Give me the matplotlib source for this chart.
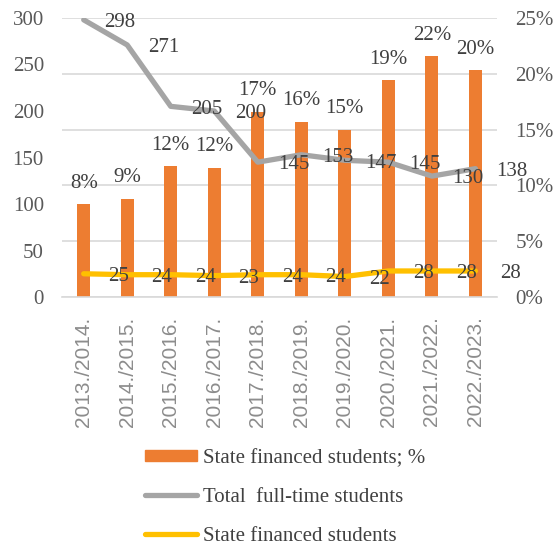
import matplotlib
matplotlib.use('Agg')
import matplotlib.pyplot as plt
import numpy as np
from matplotlib.patches import Patch
from matplotlib.lines import Line2D

years = ['2013./2014.', '2014./2015.', '2015./2016.', '2016./2017.', '2017./2018.',
         '2018./2019.', '2019./2020.', '2020./2021.', '2021./2022.', '2022./2023.']
total_students = [298, 271, 205, 200, 145, 153, 147, 145, 130, 138]
state_students = [25, 24, 24, 23, 24, 24, 22, 28, 28, 28]
state_pct = [8.3, 8.8, 11.7, 11.6, 16.6, 15.7, 15.0, 19.4, 21.6, 20.3]

plt.rcParams['font.family'] = ['Liberation Serif', 'DejaVu Serif']

orange = '#ED7D31'
grey = '#A5A5A5'
yellow = '#FFC000'
txt = '#404040'
tick_col = '#595959'
fs = 15

fig = plt.figure(figsize=(5.58, 5.45), dpi=100)
ax = fig.add_axes([0.111, 0.455, 0.78, 0.512])
ax2 = ax.twinx()
ax.set_zorder(ax2.get_zorder() + 1)
ax.patch.set_visible(False)

x = np.arange(len(years))

# bars on the right axis (percent)
ax2.bar(x, state_pct, width=0.3, color=orange, zorder=2)
ax2.set_ylim(0, 25)
ax2.set_yticks([0, 5, 10, 15, 20, 25])
ax2.set_yticklabels([f'{t}%' for t in [0, 5, 10, 15, 20, 25]])
ax2.grid(axis='y', color='#D9D9D9', linewidth=1.2, zorder=0)
ax2.set_axisbelow(True)
for xi, v in zip(x, state_pct):
    ax2.annotate(f'{v:.0f}%', (xi, v), xytext=(0, 15), textcoords='offset points',
                 ha='center', va='center', fontsize=fs, color=txt)

# lines on the left axis
ax.plot(x, total_students, color=grey, linewidth=3.8, solid_capstyle='round', zorder=3)
ax.plot(x, state_students, color=yellow, linewidth=3.8, solid_capstyle='round', zorder=3)
for xi, v in zip(x, total_students):
    ax.annotate(str(v), (xi, v), xytext=(26, -2), textcoords='offset points',
                ha='center', va='center', fontsize=fs, color=txt, annotation_clip=False)
for xi, v in zip(x, state_students):
    ax.annotate(str(v), (xi, v), xytext=(25, -2), textcoords='offset points',
                ha='center', va='center', fontsize=fs, color=txt, annotation_clip=False)

ax.set_ylim(0, 300)
ax.set_yticks(range(0, 301, 50))
ax.set_xlim(-0.5, len(years) - 0.5)
ax.set_xticks(x)
ax.set_xticklabels(years, rotation=90, fontsize=fs, color='#8C8C8C',
                   family=['Liberation Sans', 'DejaVu Sans'])

for a in (ax, ax2):
    for s in a.spines.values():
        s.set_visible(False)
    a.tick_params(axis='y', length=0, labelsize=fs, labelcolor=tick_col, pad=13)
ax.spines['bottom'].set_visible(True)
ax.spines['bottom'].set_color('#D9D9D9')
ax.spines['bottom'].set_linewidth(1.2)
ax.tick_params(axis='x', length=0, pad=14)

# legend
handles = [Patch(color=orange),
           Line2D([], [], color=grey, linewidth=3.8, solid_capstyle='round'),
           Line2D([], [], color=yellow, linewidth=3.8, solid_capstyle='round')]
labels = ['State financed students; %', 'Total  full-time students', 'State financed students']
leg = fig.legend(handles, labels, loc='upper left', bbox_to_anchor=(0.26, 0.176),
                 frameon=False, fontsize=fs, handlelength=2.5, handleheight=0.45,
                 handletextpad=0.3, labelspacing=0.95, borderpad=0, borderaxespad=0)
for t in leg.get_texts():
    t.set_color(txt)

fig.savefig('out.png', dpi=100)
